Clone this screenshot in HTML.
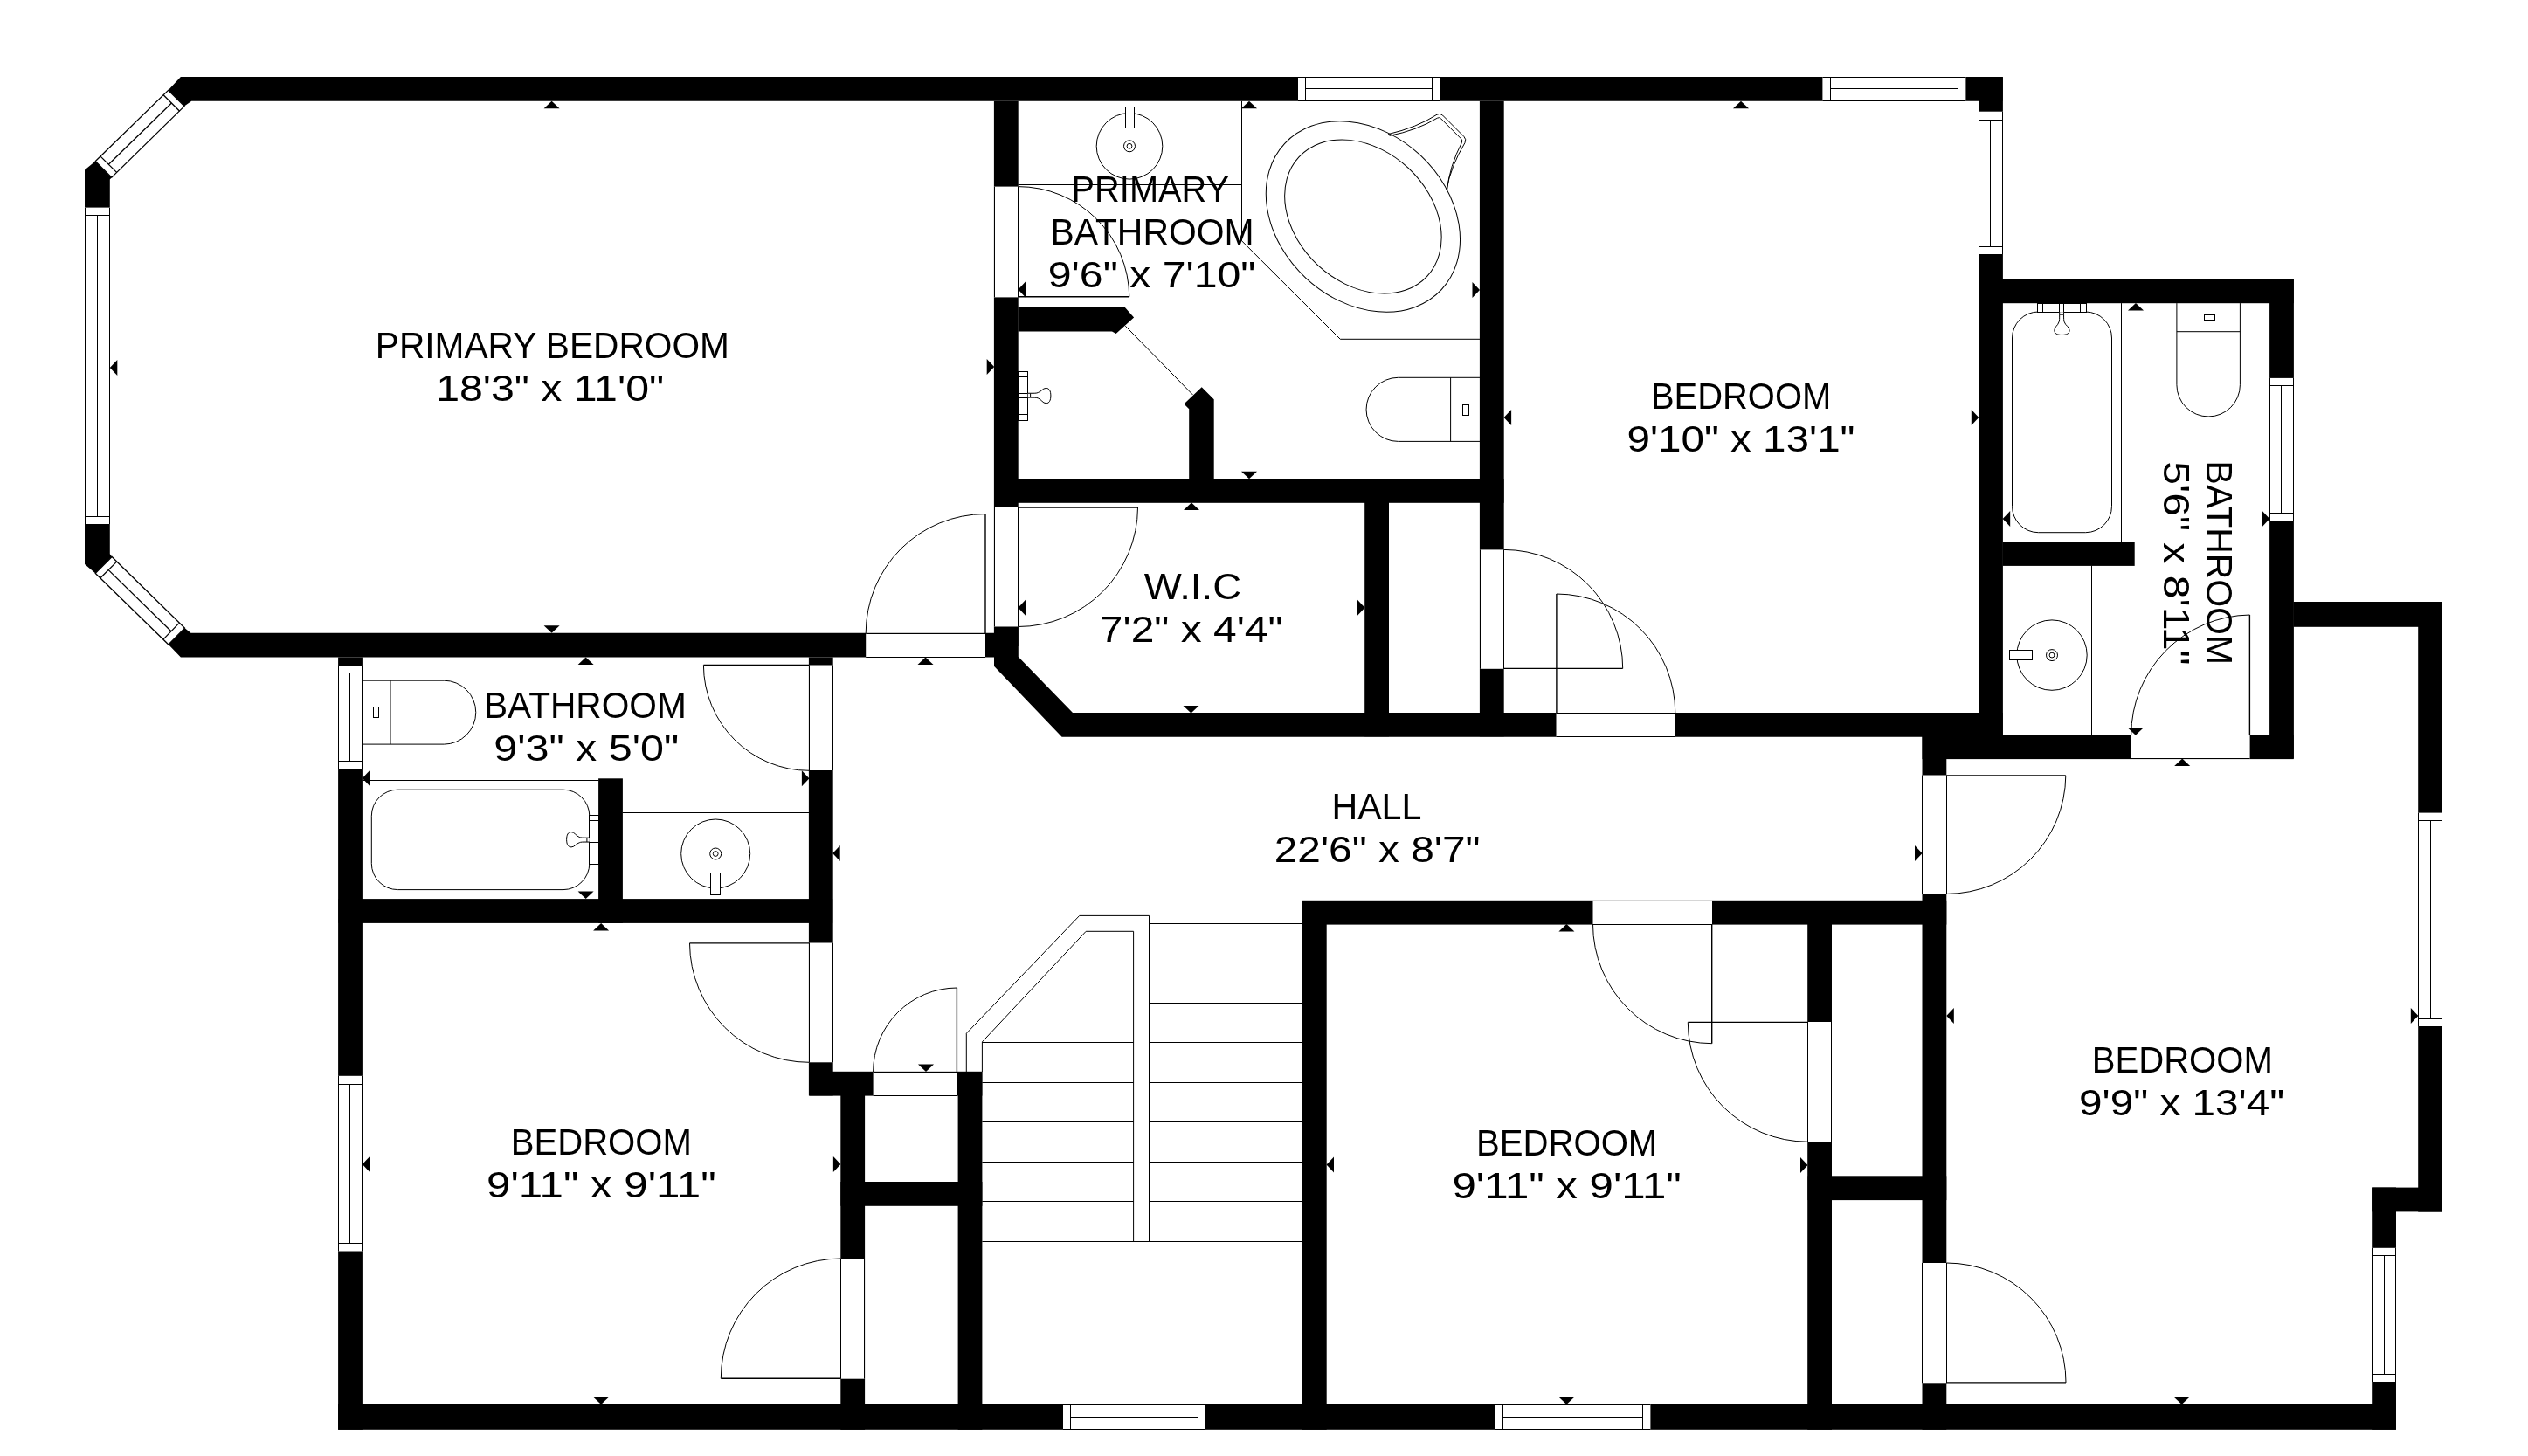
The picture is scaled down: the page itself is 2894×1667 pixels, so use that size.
<!DOCTYPE html>
<html><head><meta charset="utf-8"><title>Floor plan</title>
<style>
html,body{margin:0;padding:0;background:#fff;}
body{width:2894px;height:1667px;overflow:hidden;font-family:"Liberation Sans",sans-serif;}
svg{display:block;will-change:transform}
.w{fill:#000;stroke:none}
.wh{fill:#fff;stroke:none}
.g{fill:#fff;stroke:#000;stroke-width:1}
.gw{fill:#fff;stroke:none}
.g2{fill:#fff;stroke:#000;stroke-width:1.3}
.l2{fill:none;stroke:#000;stroke-width:1.3}
.d{fill:none;stroke:#000;stroke-width:1.4}
.l{fill:none;stroke:#000;stroke-width:1}
.f{fill:#fff;stroke:#000;stroke-width:1}
.t{fill:#000;stroke:none}
text{font-family:"Liberation Sans",sans-serif;font-size:42px;fill:#000}
</style></head><body>
<svg width="2894" height="1667" viewBox="0 0 2894 1667">
<rect x="0" y="0" width="2894" height="1667" fill="#fff"/>
<polygon class="w" points="206.9,88.1 2292.7,88.1 2292.7,115.8 219.3,115.8 211.0,121.6 192.6,103.3"/>
<polygon class="w" points="97.0,194.4 109.3,184.6 127.8,203.2 125.8,205.5 125.8,237.8 97.0,237.8"/>
<polygon class="w" points="97.0,600.0 125.8,600.0 125.8,634.2 128.1,637.5 109.3,656.4 97.0,646.0"/>
<polygon class="w" points="211.4,719.1 218.5,724.8 1138.2,724.8 1138.2,752.5 206.9,752.5 192.9,738.0"/>
<rect class="w" x="387.5" y="1029.1" width="565.7" height="27.8"/>
<rect class="w" x="387.1" y="1608.0" width="2355.8" height="28.8"/>
<rect class="w" x="1138.2" y="548.0" width="583.4" height="27.8"/>
<polygon class="w" points="1138.0,717.5 1165.8,717.5 1165.8,752.0 1228.0,816.0 2292.7,816.0 2292.7,843.8 1215.6,843.8 1138.0,762.7"/>
<rect class="w" x="2265.3" y="319.4" width="360.4" height="27.8"/>
<rect class="w" x="2292.7" y="620.1" width="151.0" height="27.8"/>
<rect class="w" x="2200.5" y="841.3" width="425.2" height="27.8"/>
<rect class="w" x="2625.6" y="689.0" width="170.4" height="28.8"/>
<rect class="w" x="1491.1" y="1030.8" width="737.2" height="27.8"/>
<rect class="w" x="926.4" y="1226.8" width="198.0" height="27.8"/>
<rect class="w" x="962.4" y="1353.0" width="162.0" height="27.8"/>
<rect class="w" x="2069.5" y="1346.3" width="158.8" height="27.8"/>
<rect class="w" x="2715.2" y="1359.6" width="80.3" height="27.8"/>
<rect class="w" x="387.1" y="752.5" width="27.8" height="884.3"/>
<rect class="w" x="685.1" y="891.3" width="27.8" height="165.6"/>
<rect class="w" x="925.9" y="752.5" width="27.8" height="501.9"/>
<rect class="w" x="962.3" y="1227.1" width="27.8" height="409.7"/>
<rect class="w" x="1096.6" y="1227.1" width="27.8" height="409.7"/>
<rect class="w" x="1490.9" y="1031.5" width="27.8" height="605.3"/>
<rect class="w" x="1137.9" y="115.8" width="27.8" height="624.2"/>
<rect class="w" x="1562.2" y="548.2" width="27.8" height="295.1"/>
<rect class="w" x="1693.9" y="115.8" width="27.8" height="727.5"/>
<rect class="w" x="2265.1" y="88.1" width="27.8" height="780.5"/>
<rect class="w" x="2598.1" y="319.4" width="27.8" height="549.2"/>
<rect class="w" x="2200.5" y="816.4" width="27.8" height="820.4"/>
<rect class="w" x="2069.2" y="1031.5" width="27.8" height="605.3"/>
<rect class="w" x="2768.2" y="689.0" width="27.8" height="698.6"/>
<rect class="w" x="2715.2" y="1359.5" width="27.8" height="277.3"/>
<polygon class="w" points="1165.5,351.0 1287.0,351.0 1298.1,363.4 1277.6,382.0 1273.0,379.5 1165.5,379.5"/>
<polygon class="w" points="1361.2,548.4 1361.2,468.3 1355.4,462.6 1375.7,443.3 1389.7,457.3 1389.7,548.4"/>
<rect class="gw" x="991.2" y="724.8" width="136.8" height="27.8"/>
<line class="l" x1="991.2" y1="725.5" x2="1128.0" y2="725.5"/>
<line class="l" x1="991.2" y1="752.5" x2="1128.0" y2="752.5"/>
<rect class="gw" x="1137.9" y="213.6" width="27.8" height="126.8"/>
<line class="l" x1="1138.5" y1="213.6" x2="1138.5" y2="340.4"/>
<line class="l" x1="1165.5" y1="213.6" x2="1165.5" y2="340.4"/>
<rect class="gw" x="1137.9" y="580.8" width="27.8" height="136.7"/>
<line class="l" x1="1138.5" y1="580.8" x2="1138.5" y2="717.5"/>
<line class="l" x1="1165.5" y1="580.8" x2="1165.5" y2="717.5"/>
<rect class="gw" x="1693.9" y="629.4" width="27.8" height="136.4"/>
<line class="l" x1="1694.5" y1="629.4" x2="1694.5" y2="765.8"/>
<line class="l" x1="1721.5" y1="629.4" x2="1721.5" y2="765.8"/>
<rect class="gw" x="1781.5" y="815.9" width="135.5" height="27.8"/>
<line class="l" x1="1781.5" y1="816.5" x2="1917.0" y2="816.5"/>
<line class="l" x1="1781.5" y1="843.5" x2="1917.0" y2="843.5"/>
<rect class="gw" x="925.9" y="761.5" width="27.8" height="120.5"/>
<line class="l" x1="926.5" y1="761.5" x2="926.5" y2="882.0"/>
<line class="l" x1="953.5" y1="761.5" x2="953.5" y2="882.0"/>
<rect class="gw" x="925.9" y="1079.5" width="27.8" height="136.8"/>
<line class="l" x1="926.5" y1="1079.5" x2="926.5" y2="1216.3"/>
<line class="l" x1="953.5" y1="1079.5" x2="953.5" y2="1216.3"/>
<rect class="gw" x="962.3" y="1441.0" width="27.8" height="137.7"/>
<line class="l" x1="962.5" y1="1441.0" x2="962.5" y2="1578.7"/>
<line class="l" x1="989.5" y1="1441.0" x2="989.5" y2="1578.7"/>
<rect class="gw" x="999.6" y="1226.8" width="96.1" height="27.8"/>
<line class="l" x1="999.6" y1="1227.5" x2="1095.7" y2="1227.5"/>
<line class="l" x1="999.6" y1="1254.5" x2="1095.7" y2="1254.5"/>
<rect class="gw" x="1823.5" y="1030.8" width="136.5" height="27.8"/>
<line class="l" x1="1823.5" y1="1031.5" x2="1960.0" y2="1031.5"/>
<line class="l" x1="1823.5" y1="1058.5" x2="1960.0" y2="1058.5"/>
<rect class="gw" x="2069.2" y="1170.0" width="27.8" height="137.2"/>
<line class="l" x1="2069.5" y1="1170.0" x2="2069.5" y2="1307.2"/>
<line class="l" x1="2096.5" y1="1170.0" x2="2096.5" y2="1307.2"/>
<rect class="gw" x="2439.7" y="841.3" width="135.9" height="27.8"/>
<line class="l" x1="2439.7" y1="841.5" x2="2575.6" y2="841.5"/>
<line class="l" x1="2439.7" y1="868.5" x2="2575.6" y2="868.5"/>
<rect class="gw" x="2200.5" y="887.5" width="27.8" height="135.9"/>
<line class="l" x1="2200.5" y1="887.5" x2="2200.5" y2="1023.4"/>
<line class="l" x1="2228.5" y1="887.5" x2="2228.5" y2="1023.4"/>
<rect class="gw" x="2200.5" y="1446.0" width="27.8" height="137.3"/>
<line class="l" x1="2200.5" y1="1446.0" x2="2200.5" y2="1583.3"/>
<line class="l" x1="2228.5" y1="1446.0" x2="2228.5" y2="1583.3"/>
<rect class="gw" x="1486.0" y="88.0" width="162.0" height="27.8"/>
<line class="l" x1="1486.0" y1="88.5" x2="1648.0" y2="88.5"/>
<line class="l" x1="1486.0" y1="115.5" x2="1648.0" y2="115.5"/>
<line class="l" x1="1494.5" y1="88.0" x2="1494.5" y2="115.8"/>
<line class="l" x1="1639.5" y1="88.0" x2="1639.5" y2="115.8"/>
<line class="l" x1="1494.7" y1="101.5" x2="1639.3" y2="101.5"/>
<rect class="gw" x="2086.4" y="88.0" width="164.0" height="27.8"/>
<line class="l" x1="2086.4" y1="88.5" x2="2250.4" y2="88.5"/>
<line class="l" x1="2086.4" y1="115.5" x2="2250.4" y2="115.5"/>
<line class="l" x1="2095.5" y1="88.0" x2="2095.5" y2="115.8"/>
<line class="l" x1="2241.5" y1="88.0" x2="2241.5" y2="115.8"/>
<line class="l" x1="2095.1" y1="101.5" x2="2241.7" y2="101.5"/>
<rect class="gw" x="1217.0" y="1608.0" width="163.0" height="28.8"/>
<line class="l" x1="1217.0" y1="1608.5" x2="1380.0" y2="1608.5"/>
<line class="l" x1="1217.0" y1="1636.5" x2="1380.0" y2="1636.5"/>
<line class="l" x1="1225.5" y1="1608.0" x2="1225.5" y2="1636.8"/>
<line class="l" x1="1371.5" y1="1608.0" x2="1371.5" y2="1636.8"/>
<line class="l" x1="1225.7" y1="1622.5" x2="1371.3" y2="1622.5"/>
<rect class="gw" x="1711.4" y="1608.0" width="178.0" height="28.8"/>
<line class="l" x1="1711.4" y1="1608.5" x2="1889.4" y2="1608.5"/>
<line class="l" x1="1711.4" y1="1636.5" x2="1889.4" y2="1636.5"/>
<line class="l" x1="1720.5" y1="1608.0" x2="1720.5" y2="1636.8"/>
<line class="l" x1="1880.5" y1="1608.0" x2="1880.5" y2="1636.8"/>
<line class="l" x1="1720.1" y1="1622.5" x2="1880.7" y2="1622.5"/>
<rect class="gw" x="97.0" y="237.8" width="28.8" height="362.2"/>
<line class="l" x1="97.5" y1="237.8" x2="97.5" y2="600.0"/>
<line class="l" x1="125.5" y1="237.8" x2="125.5" y2="600.0"/>
<line class="l" x1="97.0" y1="246.5" x2="125.8" y2="246.5"/>
<line class="l" x1="97.0" y1="591.5" x2="125.8" y2="591.5"/>
<line class="l" x1="111.5" y1="246.6" x2="111.5" y2="591.2"/>
<rect class="gw" x="387.1" y="762.2" width="27.8" height="117.9"/>
<line class="l" x1="387.5" y1="762.2" x2="387.5" y2="880.1"/>
<line class="l" x1="414.5" y1="762.2" x2="414.5" y2="880.1"/>
<line class="l" x1="387.1" y1="770.5" x2="414.9" y2="770.5"/>
<line class="l" x1="387.1" y1="871.5" x2="414.9" y2="871.5"/>
<line class="l" x1="400.5" y1="770.4" x2="400.5" y2="871.9"/>
<rect class="gw" x="387.1" y="1231.8" width="27.8" height="200.7"/>
<line class="l" x1="387.5" y1="1231.8" x2="387.5" y2="1432.5"/>
<line class="l" x1="414.5" y1="1231.8" x2="414.5" y2="1432.5"/>
<line class="l" x1="387.1" y1="1241.5" x2="414.9" y2="1241.5"/>
<line class="l" x1="387.1" y1="1423.5" x2="414.9" y2="1423.5"/>
<line class="l" x1="400.5" y1="1241.7" x2="400.5" y2="1423.5"/>
<rect class="gw" x="2265.1" y="127.7" width="27.8" height="163.3"/>
<line class="l" x1="2265.5" y1="127.7" x2="2265.5" y2="291.0"/>
<line class="l" x1="2292.5" y1="127.7" x2="2292.5" y2="291.0"/>
<line class="l" x1="2265.1" y1="137.5" x2="2292.9" y2="137.5"/>
<line class="l" x1="2265.1" y1="282.5" x2="2292.9" y2="282.5"/>
<line class="l" x1="2278.5" y1="137.5" x2="2278.5" y2="282.6"/>
<rect class="gw" x="2598.1" y="432.9" width="27.8" height="163.2"/>
<line class="l" x1="2598.5" y1="432.9" x2="2598.5" y2="596.1"/>
<line class="l" x1="2625.5" y1="432.9" x2="2625.5" y2="596.1"/>
<line class="l" x1="2598.1" y1="441.5" x2="2625.9" y2="441.5"/>
<line class="l" x1="2598.1" y1="587.5" x2="2625.9" y2="587.5"/>
<line class="l" x1="2611.5" y1="441.3" x2="2611.5" y2="587.5"/>
<rect class="gw" x="2768.2" y="930.6" width="27.8" height="244.4"/>
<line class="l" x1="2768.5" y1="930.6" x2="2768.5" y2="1175.0"/>
<line class="l" x1="2795.5" y1="930.6" x2="2795.5" y2="1175.0"/>
<line class="l" x1="2768.2" y1="939.5" x2="2796.0" y2="939.5"/>
<line class="l" x1="2768.2" y1="1166.5" x2="2796.0" y2="1166.5"/>
<line class="l" x1="2782.5" y1="939.4" x2="2782.5" y2="1166.2"/>
<rect class="gw" x="2715.1" y="1428.8" width="27.8" height="153.2"/>
<line class="l" x1="2715.5" y1="1428.8" x2="2715.5" y2="1582.0"/>
<line class="l" x1="2742.5" y1="1428.8" x2="2742.5" y2="1582.0"/>
<line class="l" x1="2715.1" y1="1437.5" x2="2742.9" y2="1437.5"/>
<line class="l" x1="2715.1" y1="1573.5" x2="2742.9" y2="1573.5"/>
<line class="l" x1="2729.5" y1="1437.6" x2="2729.5" y2="1573.2"/>
<polygon class="g2" points="192.6,103.3 211.0,121.6 127.8,203.2 109.3,184.6"/>
<line class="l2" x1="187.1" y1="108.7" x2="205.6" y2="127.2"/>
<line class="l2" x1="115.1" y1="179.1" x2="133.6" y2="197.4"/>
<line class="l2" x1="196.4" y1="118.0" x2="124.3" y2="188.3"/>
<polygon class="g2" points="128.1,637.5 211.4,719.1 192.9,738.0 109.3,656.4"/>
<line class="l2" x1="133.1" y1="643.6" x2="114.9" y2="661.7"/>
<line class="l2" x1="204.8" y1="713.6" x2="187.1" y2="731.9"/>
<line class="l2" x1="124.2" y1="652.6" x2="195.9" y2="722.8"/>
<line class="d" x1="1165.5" y1="339.8" x2="1292.8" y2="339.8"/>
<path class="l" d="M1292.8,339.8 A127.3,127.3 0 0 0 1165.5,213.6"/>
<line class="d" x1="1165.5" y1="581.0" x2="1302.5" y2="581.0"/>
<path class="l" d="M1302.5,581.0 A137.0,137.0 0 0 1 1165.5,717.5"/>
<line class="d" x1="1128.0" y1="725.0" x2="1128.0" y2="588.6"/>
<path class="l" d="M1128.0,588.6 A136.4,136.4 0 0 0 991.2,725.0"/>
<line class="d" x1="1721.6" y1="765.4" x2="1857.7" y2="765.4"/>
<path class="l" d="M1857.7,765.4 A136.1,136.1 0 0 0 1721.6,629.4"/>
<line class="d" x1="1781.9" y1="816.4" x2="1781.9" y2="680.0"/>
<path class="l" d="M1781.9,680.0 A136.4,136.4 0 0 1 1917.8,816.2"/>
<line class="d" x1="926.4" y1="761.4" x2="805.4" y2="761.4"/>
<path class="l" d="M805.4,761.4 A121.0,121.0 0 0 0 926.4,882.3"/>
<line class="d" x1="926.4" y1="1079.9" x2="789.5" y2="1079.9"/>
<path class="l" d="M789.5,1079.9 A136.9,136.9 0 0 0 926.4,1216.3"/>
<line class="d" x1="962.4" y1="1578.3" x2="825.3" y2="1578.3"/>
<path class="l" d="M825.3,1578.3 A137.1,137.1 0 0 1 962.4,1441.0"/>
<line class="d" x1="1095.4" y1="1227.1" x2="1095.4" y2="1131.0"/>
<path class="l" d="M1095.4,1131.0 A96.1,96.1 0 0 0 999.6,1227.1"/>
<line class="d" x1="1959.7" y1="1058.0" x2="1959.7" y2="1194.7"/>
<path class="l" d="M1959.7,1194.7 A136.7,136.7 0 0 1 1823.5,1058.0"/>
<line class="d" x1="2069.5" y1="1170.4" x2="1932.3" y2="1170.4"/>
<path class="l" d="M1932.3,1170.4 A137.2,137.2 0 0 0 2069.5,1307.2"/>
<line class="d" x1="2575.4" y1="841.7" x2="2575.4" y2="704.0"/>
<path class="l" d="M2575.4,704.0 A137.7,137.7 0 0 0 2439.7,841.7"/>
<line class="d" x1="2228.3" y1="887.9" x2="2364.8" y2="887.9"/>
<path class="l" d="M2364.8,887.9 A136.5,136.5 0 0 1 2228.3,1023.4"/>
<line class="d" x1="2228.3" y1="1582.9" x2="2365.0" y2="1582.9"/>
<path class="l" d="M2365.0,1582.9 A136.7,136.7 0 0 0 2228.3,1446.0"/>
<path class="l" d="M1106.3,1227.1 L1106.3,1183.2 L1235.7,1048.4 L1315.5,1048.4 L1315.5,1421.5"/>
<path class="l" d="M1124.4,1227.1 L1124.4,1192.9 L1243.2,1066.3 L1297.6,1066.3 L1297.6,1421.5"/>
<line class="l" x1="1315.5" y1="1057.5" x2="1491.1" y2="1057.5"/>
<line class="l" x1="1315.5" y1="1102.5" x2="1491.1" y2="1102.5"/>
<line class="l" x1="1315.5" y1="1148.5" x2="1491.1" y2="1148.5"/>
<line class="l" x1="1315.5" y1="1193.5" x2="1491.1" y2="1193.5"/>
<line class="l" x1="1315.5" y1="1239.5" x2="1491.1" y2="1239.5"/>
<line class="l" x1="1315.5" y1="1284.5" x2="1491.1" y2="1284.5"/>
<line class="l" x1="1315.5" y1="1330.5" x2="1491.1" y2="1330.5"/>
<line class="l" x1="1315.5" y1="1375.5" x2="1491.1" y2="1375.5"/>
<line class="l" x1="1124.4" y1="1193.5" x2="1297.6" y2="1193.5"/>
<line class="l" x1="1124.4" y1="1239.5" x2="1297.6" y2="1239.5"/>
<line class="l" x1="1124.4" y1="1284.5" x2="1297.6" y2="1284.5"/>
<line class="l" x1="1124.4" y1="1330.5" x2="1297.6" y2="1330.5"/>
<line class="l" x1="1124.4" y1="1375.5" x2="1297.6" y2="1375.5"/>
<line class="l" x1="1124.4" y1="1421.5" x2="1491.1" y2="1421.5"/>
<path class="l" d="M1165.5,211.5 L1421.5,211.5 M1421.5,115.8 L1421.5,275.7 L1534.3,388.3 L1694,388.3"/>
<line class="l" x1="1288.3" y1="373.2" x2="1365.4" y2="451.9"/>
<circle class="f" cx="1293" cy="167.3" r="37.8"/>
<circle class="f" cx="1293" cy="167.3" r="6.5"/><circle class="f" cx="1293" cy="167.3" r="2.9"/>
<rect class="f" x="1288.5" y="122.5" width="10.0" height="24.0"/>
<circle class="f" cx="819.2" cy="977.5" r="39.5"/>
<circle class="f" cx="819.2" cy="977.5" r="6.5"/><circle class="f" cx="819.2" cy="977.5" r="2.9"/>
<rect class="f" x="813.5" y="999.5" width="11.0" height="25.0"/>
<circle class="f" cx="2349" cy="750.1" r="40.2"/>
<circle class="f" cx="2349" cy="750.1" r="6.5"/><circle class="f" cx="2349" cy="750.1" r="2.9"/>
<rect class="f" x="2300.5" y="744.5" width="26.0" height="11.0"/>
<g transform="translate(1560.4,248) rotate(43)"><ellipse class="f" rx="122.7" ry="96.1"/><ellipse class="f" rx="100.2" ry="76"/></g>
<path class="l" d="M1589.2,153.6 Q1622,146 1645,131.2 Q1648.5,129 1651.5,132 L1676,156.5 Q1679,159.5 1677,163.5 Q1661,190 1655.7,217.8"/>
<path class="l" d="M1590.6,155.4 Q1622,149.3 1645.3,135.2 Q1647.6,133.8 1649.6,135.8 L1672.6,158.8 Q1674.6,160.8 1673.4,163.3 Q1659.5,190 1656.5,217.8"/>
<path class="l" d="M1694,432.3 L1600.6,432.3 A36.5,36.5 0 0 0 1600.6,505.4 L1694,505.4 M1660.6,432.3 L1660.6,505.4"/>
<rect class="f" x="1674.5" y="463.5" width="7.0" height="12.0"/>
<path class="l" d="M414.8,779.2 L508.3,779.2 A36.4,36.4 0 0 1 508.3,852.1 L414.8,852.1 M447,779.2 L447,852.1"/>
<rect class="f" x="427.5" y="809.5" width="6.0" height="12.0"/>
<path class="l" d="M2491.9,347.1 L2491.9,440.7 A36.25,36.25 0 0 0 2564.4,440.7 L2564.4,347.1 M2491.9,379.7 L2564.4,379.7"/>
<rect class="f" x="2523.5" y="360.5" width="12.0" height="6.0"/>
<line class="l" x1="414.8" y1="893.5" x2="685.2" y2="893.5"/>
<rect class="f" x="425.3" y="904.2" width="249.5" height="114.4" rx="30" ry="30"/>
<rect class="f" x="674.5" y="933.5" width="11.0" height="56.0"/>
<line class="l" x1="674.8" y1="939.5" x2="685.2" y2="939.5"/>
<line class="l" x1="674.8" y1="959.5" x2="685.2" y2="959.5"/>
<line class="l" x1="674.8" y1="964.5" x2="685.2" y2="964.5"/>
<line class="l" x1="674.8" y1="983.5" x2="685.2" y2="983.5"/>
<path class="f" d="M674.80,964.05 L671.90,964.05 L671.90,959.15 L674.80,959.15 M671.90,964.05 C667.80,964.05 664.80,963.90 663.20,964.80 C659.30,965.80 658.00,969.90 654.00,969.90 C650.20,969.90 648.70,966.60 648.60,961.30 C648.70,955.90 650.20,952.60 653.90,952.60 C658.00,952.60 659.30,957.20 663.20,958.40 C664.80,959.20 667.80,959.15 671.90,959.15"/>
<line class="l" x1="712.8" y1="930.5" x2="926.4" y2="930.5"/>
<rect class="f" x="2303.5" y="357" width="114" height="252.7" rx="30" ry="30"/>
<rect class="f" x="2332.5" y="347.5" width="56.0" height="10.0"/>
<line class="l" x1="2338.5" y1="347.1" x2="2338.5" y2="357.0"/>
<line class="l" x1="2357.5" y1="347.1" x2="2357.5" y2="357.0"/>
<line class="l" x1="2362.5" y1="347.1" x2="2362.5" y2="357.0"/>
<line class="l" x1="2381.5" y1="347.1" x2="2381.5" y2="357.0"/>
<path class="f" d="M2357.65,357.30 L2357.65,360.20 L2362.55,360.20 L2362.55,357.30 M2357.65,360.20 C2357.65,364.30 2357.80,367.30 2356.90,368.90 C2355.90,372.80 2351.80,374.10 2351.80,378.10 C2351.80,381.90 2355.10,383.40 2360.40,383.50 C2365.80,383.40 2369.10,381.90 2369.10,378.20 C2369.10,374.10 2364.50,372.80 2363.30,368.90 C2362.50,367.30 2362.55,364.30 2362.55,360.20"/>
<line class="l" x1="2428.5" y1="347.1" x2="2428.5" y2="620.4"/>
<line class="l" x1="2394.5" y1="647.5" x2="2394.5" y2="841.7"/>
<rect class="f" x="1165.5" y="425.5" width="11.0" height="56.0"/>
<line class="l" x1="1165.5" y1="431.5" x2="1176.7" y2="431.5"/>
<line class="l" x1="1165.5" y1="450.5" x2="1176.7" y2="450.5"/>
<line class="l" x1="1165.5" y1="455.5" x2="1176.7" y2="455.5"/>
<line class="l" x1="1165.5" y1="474.5" x2="1176.7" y2="474.5"/>
<path class="f" d="M1176.70,450.25 L1179.60,450.25 L1179.60,455.15 L1176.70,455.15 M1179.60,450.25 C1183.70,450.25 1186.70,450.40 1188.30,449.50 C1192.20,448.50 1193.50,444.40 1197.50,444.40 C1201.30,444.40 1202.80,447.70 1202.90,453.00 C1202.80,458.40 1201.30,461.70 1197.60,461.70 C1193.50,461.70 1192.20,457.10 1188.30,455.90 C1186.70,455.10 1183.70,455.15 1179.60,455.15"/>
<polygon class="t" points="631.6,115.8 622.6,124.3 640.6,124.3"/>
<polygon class="t" points="631.6,724.8 622.6,716.3 640.6,716.3"/>
<polygon class="t" points="125.8,421.0 134.3,412.0 134.3,430.0"/>
<polygon class="t" points="1138.2,420.0 1129.7,411.0 1129.7,429.0"/>
<polygon class="t" points="670.6,752.5 661.6,761.0 679.6,761.0"/>
<polygon class="t" points="670.6,1029.1 661.6,1020.6 679.6,1020.6"/>
<polygon class="t" points="414.8,891.0 423.3,882.0 423.3,900.0"/>
<polygon class="t" points="926.4,891.3 917.9,882.3 917.9,900.3"/>
<polygon class="t" points="688.1,1056.9 679.1,1065.4 697.1,1065.4"/>
<polygon class="t" points="688.1,1608.0 679.1,1599.5 697.1,1599.5"/>
<polygon class="t" points="414.8,1333.0 423.3,1324.0 423.3,1342.0"/>
<polygon class="t" points="962.4,1333.0 953.9,1324.0 953.9,1342.0"/>
<polygon class="t" points="1430.0,115.8 1421.0,124.3 1439.0,124.3"/>
<polygon class="t" points="1430.0,548.2 1421.0,539.7 1439.0,539.7"/>
<polygon class="t" points="1165.5,331.5 1174.0,322.5 1174.0,340.5"/>
<polygon class="t" points="1694.0,332.0 1685.5,323.0 1685.5,341.0"/>
<polygon class="t" points="1364.0,575.6 1355.0,584.1 1373.0,584.1"/>
<polygon class="t" points="1363.5,816.4 1354.5,807.9 1372.5,807.9"/>
<polygon class="t" points="1165.5,695.7 1174.0,686.7 1174.0,704.7"/>
<polygon class="t" points="1562.5,695.7 1554.0,686.7 1554.0,704.7"/>
<polygon class="t" points="1993.0,115.8 1984.0,124.3 2002.0,124.3"/>
<polygon class="t" points="1721.6,478.0 1730.1,469.0 1730.1,487.0"/>
<polygon class="t" points="2265.3,478.0 2256.8,469.0 2256.8,487.0"/>
<polygon class="t" points="2445.0,347.1 2436.0,355.6 2454.0,355.6"/>
<polygon class="t" points="2444.8,841.7 2435.8,833.2 2453.8,833.2"/>
<polygon class="t" points="2292.7,594.0 2301.2,585.0 2301.2,603.0"/>
<polygon class="t" points="2598.3,594.0 2589.8,585.0 2589.8,603.0"/>
<polygon class="t" points="1059.5,752.5 1050.5,761.0 1068.5,761.0"/>
<polygon class="t" points="1060.0,1227.1 1051.0,1218.6 1069.0,1218.6"/>
<polygon class="t" points="953.2,977.0 961.7,968.0 961.7,986.0"/>
<polygon class="t" points="2200.5,977.0 2192.0,968.0 2192.0,986.0"/>
<polygon class="t" points="1793.4,1058.0 1784.4,1066.5 1802.4,1066.5"/>
<polygon class="t" points="1793.4,1608.0 1784.4,1599.5 1802.4,1599.5"/>
<polygon class="t" points="1518.5,1333.5 1527.0,1324.5 1527.0,1342.5"/>
<polygon class="t" points="2069.5,1334.0 2061.0,1325.0 2061.0,1343.0"/>
<polygon class="t" points="2498.2,868.6 2489.2,877.1 2507.2,877.1"/>
<polygon class="t" points="2497.6,1608.0 2488.6,1599.5 2506.6,1599.5"/>
<polygon class="t" points="2228.3,1163.0 2236.8,1154.0 2236.8,1172.0"/>
<polygon class="t" points="2768.3,1163.0 2759.8,1154.0 2759.8,1172.0"/>
<g>
<text x="429.8" y="409.7" textLength="405.1" lengthAdjust="spacingAndGlyphs">PRIMARY BEDROOM</text>
<text x="499.2" y="458.7" textLength="260.9" lengthAdjust="spacingAndGlyphs">18'3&quot; x 11'0&quot;</text>
<text x="553.9" y="822.4" textLength="232.0" lengthAdjust="spacingAndGlyphs">BATHROOM</text>
<text x="565.3" y="871.4" textLength="211.9" lengthAdjust="spacingAndGlyphs">9'3&quot; x 5'0&quot;</text>
<text x="584.7" y="1321.7" textLength="207.2" lengthAdjust="spacingAndGlyphs">BEDROOM</text>
<text x="557.0" y="1370.8" textLength="262.7" lengthAdjust="spacingAndGlyphs">9'11&quot; x 9'11&quot;</text>
<text x="1226.6" y="230.7" textLength="180.5" lengthAdjust="spacingAndGlyphs">PRIMARY</text>
<text x="1202.4" y="279.8" textLength="233.2" lengthAdjust="spacingAndGlyphs">BATHROOM</text>
<text x="1199.8" y="328.8" textLength="237.7" lengthAdjust="spacingAndGlyphs">9'6&quot; x 7'10&quot;</text>
<text x="1309.7" y="685.6" textLength="111.4" lengthAdjust="spacingAndGlyphs">W.I.C</text>
<text x="1258.8" y="734.8" textLength="209.7" lengthAdjust="spacingAndGlyphs">7'2&quot; x 4'4&quot;</text>
<text x="1524.4" y="937.6" textLength="103.0" lengthAdjust="spacingAndGlyphs">HALL</text>
<text x="1458.7" y="986.7" textLength="235.9" lengthAdjust="spacingAndGlyphs">22'6&quot; x 8'7&quot;</text>
<text x="1689.9" y="1322.5" textLength="207.4" lengthAdjust="spacingAndGlyphs">BEDROOM</text>
<text x="1662.5" y="1371.5" textLength="262.3" lengthAdjust="spacingAndGlyphs">9'11&quot; x 9'11&quot;</text>
<text x="1889.9" y="467.8" textLength="206.4" lengthAdjust="spacingAndGlyphs">BEDROOM</text>
<text x="1862.5" y="516.8" textLength="261.0" lengthAdjust="spacingAndGlyphs">9'10&quot; x 13'1&quot;</text>
<text x="2394.7" y="1227.5" textLength="207.2" lengthAdjust="spacingAndGlyphs">BEDROOM</text>
<text x="2380.1" y="1276.5" textLength="235.1" lengthAdjust="spacingAndGlyphs">9'9&quot; x 13'4&quot;</text>
<g transform="translate(2526.4,530.7) rotate(90)"><text x="-3.1" y="0" textLength="233.4" lengthAdjust="spacingAndGlyphs">BATHROOM</text></g>
<g transform="translate(2477.3,530.2) rotate(90)"><text x="-2.0" y="0" textLength="233.5" lengthAdjust="spacingAndGlyphs">5'6&quot; x 8'11&quot;</text></g>
</g>
</svg>
</body></html>
